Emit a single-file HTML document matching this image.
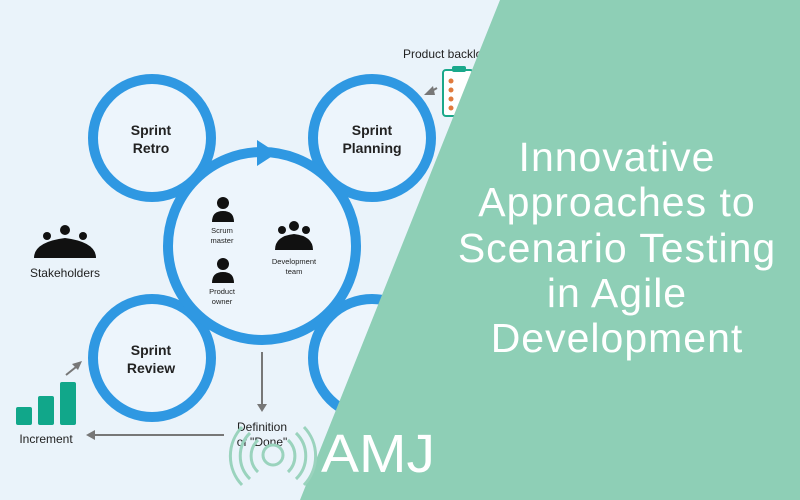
<!DOCTYPE html>
<html><head><style>
body{margin:0;width:800px;height:500px;overflow:hidden;background:#eaf3fa;font-family:"Liberation Sans",sans-serif}
</style></head><body>
<svg width="800" height="500" viewBox="0 0 800 500" xmlns="http://www.w3.org/2000/svg" style="position:absolute;left:0;top:0">
<rect width="800" height="500" fill="#eaf3fa"/>
<g fill="#edf5fc" stroke="#2f98e2" stroke-width="10">
<circle cx="152" cy="138" r="59"/>
<circle cx="372" cy="138" r="59"/>
<circle cx="372" cy="358" r="59"/>
<circle cx="152" cy="358" r="59"/>
<circle cx="262" cy="246" r="94"/>
</g>
<polygon points="257,140 277,153 257,166" fill="#2f98e2"/>
<g font-weight="bold" font-size="14" fill="#222" text-anchor="middle">
<text x="151" y="135">Sprint</text><text x="151" y="153">Retro</text>
<text x="372" y="135">Sprint</text><text x="372" y="153">Planning</text>
<text x="151" y="355">Sprint</text><text x="151" y="373">Review</text>
<text x="65" y="277" font-size="12" font-weight="normal">Stakeholders</text>
<text x="46" y="443" font-size="12" font-weight="normal">Increment</text>
<text x="262" y="431" font-size="12" font-weight="normal">Definition</text>
<text x="262" y="446" font-size="12" font-weight="normal">of "Done"</text>
<text x="446" y="58" font-size="12" font-weight="normal">Product backlog</text>
<g font-size="7.5" font-weight="normal"><text x="222" y="233">Scrum</text><text x="222" y="243">master</text>
<text x="222" y="294">Product</text><text x="222" y="304">owner</text>
<text x="294" y="264">Development</text><text x="294" y="274">team</text></g>
</g>
<g fill="#111">
<circle cx="223" cy="203" r="6"/><path d="M212 222 q0-11 11-11 q11 0 11 11z"/>
<circle cx="223" cy="264" r="6"/><path d="M212 283 q0-11 11-11 q11 0 11 11z"/>
<circle cx="294" cy="226" r="5"/><circle cx="282" cy="230" r="4"/><circle cx="306" cy="230" r="4"/>
<path d="M275 250 q0-14 19-16 q19 2 19 16z"/>
<circle cx="65" cy="230" r="5"/><circle cx="47" cy="236" r="4"/><circle cx="83" cy="236" r="4"/>
<path d="M34 258 q0-16 31-20 q31 4 31 20z"/>
</g>
<g fill="#11a78a"><rect x="16" y="407" width="16" height="18" rx="2"/><rect x="38" y="396" width="16" height="29" rx="2"/><rect x="60" y="382" width="16" height="43" rx="2"/></g>
<g stroke="#777" stroke-width="2" fill="#777">
<line x1="262" y1="352" x2="262" y2="405"/><polygon points="257,404 267,404 262,412" stroke="none"/>
<line x1="224" y1="435" x2="94" y2="435"/><polygon points="95,430 95,440 86,435" stroke="none"/>
<line x1="66" y1="375" x2="76" y2="367"/><polygon points="82,361 72,364 78,370" stroke="none"/>
<line x1="437" y1="88" x2="430" y2="92"/><polygon points="424,95 433,86 435,95" stroke="none"/>
</g>
<rect x="443" y="70" width="30" height="46" rx="3" fill="#fff" stroke="#1aa88b" stroke-width="2"/>
<rect x="452" y="66" width="14" height="6" rx="2" fill="#1aa88b"/>
<g fill="#e07a3c"><circle cx="451" cy="81" r="2.5"/><circle cx="451" cy="90" r="2.5"/><circle cx="451" cy="99" r="2.5"/><circle cx="451" cy="108" r="2.5"/></g>
<polygon points="500,0 800,0 800,500 300,500" fill="#8ecfb6"/>
<g fill="none" stroke="#9ad3bd" stroke-width="3">
<circle cx="273" cy="455" r="10"/>
<path d="M258 440 a22 22 0 0 0 0 32"/><path d="M288 440 a22 22 0 0 1 0 32"/>
<path d="M250 433 a32 32 0 0 0 0 46"/><path d="M296 433 a32 32 0 0 1 0 46"/>
<path d="M242 427 a42 42 0 0 0 0 58"/><path d="M304 427 a42 42 0 0 1 0 58"/>
</g>
<text x="321" y="472" font-size="54" fill="#fff" font-family="Liberation Sans,sans-serif" textLength="114" lengthAdjust="spacingAndGlyphs">AMJ</text>
<g font-size="41" fill="#fff" text-anchor="middle" letter-spacing="1">
<text x="617" y="171">Innovative</text>
<text x="617" y="216">Approaches to</text>
<text x="617" y="262">Scenario Testing</text>
<text x="617" y="307">in Agile</text>
<text x="617" y="352">Development</text>
</g>
</svg>
</body></html>
